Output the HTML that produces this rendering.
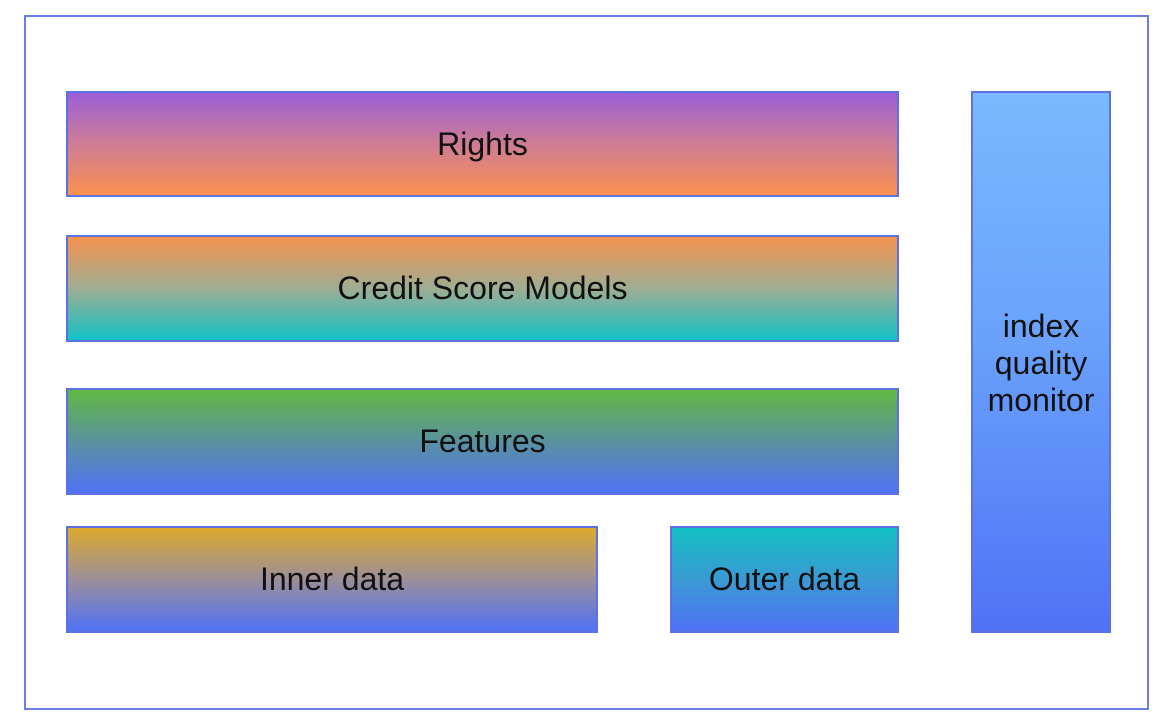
<!DOCTYPE html>
<html><head><meta charset="utf-8"><style>
html,body{margin:0;padding:0;background:#fff;width:1172px;height:726px;overflow:hidden}
.b{position:absolute;box-sizing:border-box;border:2px solid #5b72e0;display:flex;align-items:center;justify-content:center;font-family:"Liberation Sans",sans-serif;font-size:32px;color:#111;text-align:center;line-height:37px}
</style></head><body>
<div style="position:absolute;left:24px;top:15px;width:1125px;height:695px;box-sizing:border-box;border:2px solid #6a7ee6"></div>
<div class="b" style="left:66px;top:91px;width:833px;height:106px;background:linear-gradient(#9b5fd6,#c97a9c 45%,#fa904f)">Rights</div>
<div class="b" style="left:66px;top:235px;width:833px;height:107px;background:linear-gradient(#f6924e,#9fad93 50%,#12c2c6)">Credit Score Models</div>
<div class="b" style="left:66px;top:388px;width:833px;height:107px;background:linear-gradient(#61b842,#5a92a0 50%,#4f72f6)">Features</div>
<div class="b" style="left:66px;top:526px;width:532px;height:107px;background:linear-gradient(#dcaa2c,#9c8e9a 50%,#4f72f6)">Inner data</div>
<div class="b" style="left:670px;top:526px;width:229px;height:107px;background:linear-gradient(#12c0c2,#3a9ad4 50%,#4f72f6)">Outer data</div>
<div class="b" style="left:971px;top:91px;width:140px;height:542px;background:linear-gradient(#78bafd,#6aa2fb 45%,#4f72f6);padding-top:2px">index<br>quality<br>monitor</div>
</body></html>
